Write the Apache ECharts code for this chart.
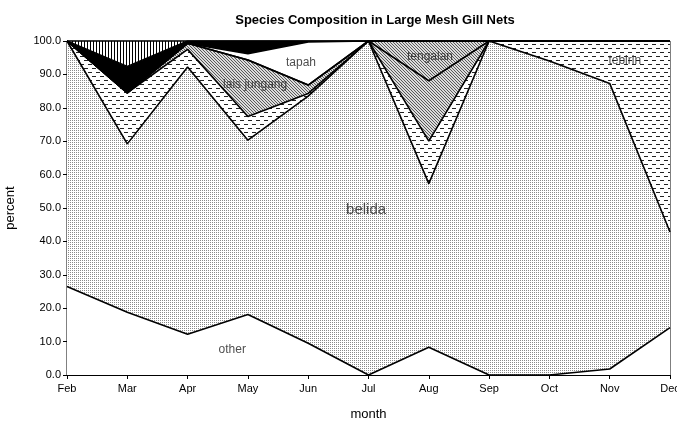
<!DOCTYPE html>
<html>
<head>
<meta charset="utf-8">
<script src="https://cdn.jsdelivr.net/npm/echarts@6/dist/echarts.min.js"></script>
<style>
  body { margin: 0; background: #fff; }
  #chart { width: 677px; height: 426px; }
</style>
</head>
<body>
<div id="chart"></div>
<script>
// months on the x axis
var months = ['Feb', 'Mar', 'Apr', 'May', 'Jun', 'Jul', 'Aug', 'Sep', 'Oct', 'Nov', 'Dec'];
var yTicks = [0, 10, 20, 30, 40, 50, 60, 70, 80, 90, 100];

// percent of catch per species, stacked bottom to top
var other = [26.5, 18.8, 12.2, 18.1, 9.5, 0, 8.3, 0, 0, 1.8, 14.2];
var belida = [73.5, 50.4, 80.0, 52.2, 74.0, 100, 49.0, 100, 94.0, 85.5, 28.6];
var tebirin = [0, 15.3, 5.3, 7.1, 0.8, 0, 12.7, 0, 6.0, 12.7, 57.2];
var laisJungang = [0, 0, 1.8, 16.9, 2.5, 0, 18.1, 0, 0, 0, 0];
var tengalan = [0, 0, 0, 0, 0, 0, 11.9, 0, 0, 0, 0];
var tapah = [0, 0, 0, 1.9, 12.9, 0, 0, 0, 0, 0, 0];
var baung = [0, 7.9, 0.7, 3.8, 0.3, 0, 0, 0, 0, 0, 0];
var juara = [0, 7.6, 0, 0, 0, 0, 0, 0, 0, 0, 0];

// where the species names sit: [month index, percent]
var labelNames = ['juara', 'baung', 'tapah', 'lais jungang', 'tengalan', 'tebirin', 'belida', 'other'];
var labelPos = [[0.96, 100.4], [2.92, 101.0], [3.88, 93.4], [3.12, 86.8], [6.02, 95.2], [9.25, 94.0], [4.96, 49.4], [2.74, 7.5]];

function makePattern(w, h, bg, draw) {
  var c = document.createElement('canvas');
  c.width = w; c.height = h;
  var ctx = c.getContext('2d');
  ctx.fillStyle = bg;
  ctx.fillRect(0, 0, w, h);
  ctx.fillStyle = '#000';
  draw(ctx);
  return { image: c, repeat: 'repeat' };
}

var dots = makePattern(2, 2, '#fff', function (ctx) {
  ctx.fillStyle = '#8a8a8a';
  ctx.fillRect(0, 0, 1, 1);
});
var dashes = makePattern(8, 8, '#fff', function (ctx) {
  ctx.fillStyle = '#222';
  ctx.fillRect(0, 0, 4, 1);
  ctx.fillRect(4, 4, 4, 1);
});
var hatch = makePattern(3, 3, '#dcdcdc', function (ctx) {
  ctx.fillStyle = '#5a5a5a';
  for (var i = 0; i < 3; i++) ctx.fillRect(i, i, 1, 1);
});
var vlines = makePattern(3, 1, '#fff', function (ctx) {
  ctx.fillRect(0, 0, 1, 1);
});

function layer(name, data, fill) {
  return {
    name: name,
    type: 'line',
    stack: 'all',
    data: data,
    symbol: 'none',
    lineStyle: { color: '#000', width: 1.6 },
    areaStyle: { color: fill, opacity: 1 },
    silent: true
  };
}

var labelData = labelNames.map(function (n, i) {
  return { value: labelPos[i], name: n, label: { fontSize: n === 'belida' ? 15 : 12 } };
});

var option = {
  animation: false,
  title: {
    text: 'Species Composition in Large Mesh Gill Nets',
    left: 370,
    textAlign: 'center',
    top: 9,
    textStyle: { fontFamily: 'Liberation Sans', fontSize: 13, fontWeight: 'bold', color: '#000' }
  },
  grid: {
    left: 67, right: 7, top: 41, bottom: 51,
    outerBoundsMode: 'none',
    show: true, borderColor: '#000', borderWidth: 1
  },
  xAxis: [
    {
      type: 'category',
      data: months,
      boundaryGap: false,
      name: 'month',
      nameLocation: 'middle',
      nameGap: 33,
      nameTextStyle: { fontFamily: 'Liberation Sans', fontSize: 13, color: '#000' },
      axisLine: { lineStyle: { color: '#000' } },
      axisTick: { lineStyle: { color: '#000' }, length: 4 },
      axisLabel: { fontFamily: 'Liberation Sans', fontSize: 11, color: '#000', margin: 8, interval: 0 },
      splitLine: { show: false }
    },
    { type: 'value', min: 0, max: months.length - 1, show: false }
  ],
  yAxis: {
    type: 'value',
    min: yTicks[0],
    max: yTicks[yTicks.length - 1],
    interval: 10,
    name: 'percent',
    nameLocation: 'middle',
    nameGap: 50,
    nameTextStyle: { fontFamily: 'Liberation Sans', fontSize: 13, color: '#000' },
    axisLine: { show: true, lineStyle: { color: '#000' } },
    axisTick: { show: true, lineStyle: { color: '#000' }, length: 4 },
    axisLabel: {
      fontFamily: 'Liberation Sans', fontSize: 11, color: '#000', margin: 6,
      formatter: function (v) { return v.toFixed(1); }
    },
    splitLine: { show: false }
  },
  series: [
    layer('other', other, '#fff'),
    layer('belida', belida, dots),
    layer('tebirin', tebirin, dashes),
    layer('lais jungang', laisJungang, hatch),
    layer('tengalan', tengalan, hatch),
    layer('tapah', tapah, '#fff'),
    layer('baung', baung, '#000'),
    layer('juara', juara, vlines),
    {
      type: 'scatter',
      xAxisIndex: 1,
      data: labelData,
      symbolSize: 0,
      silent: true,
      z: 10,
      label: {
        show: true,
        position: 'inside',
        formatter: '{b}',
        fontFamily: 'Liberation Sans',
        color: '#222'
      }
    }
  ]
};

var chart = echarts.init(document.getElementById('chart'));
chart.setOption(option);
</script>
</body>
</html>
